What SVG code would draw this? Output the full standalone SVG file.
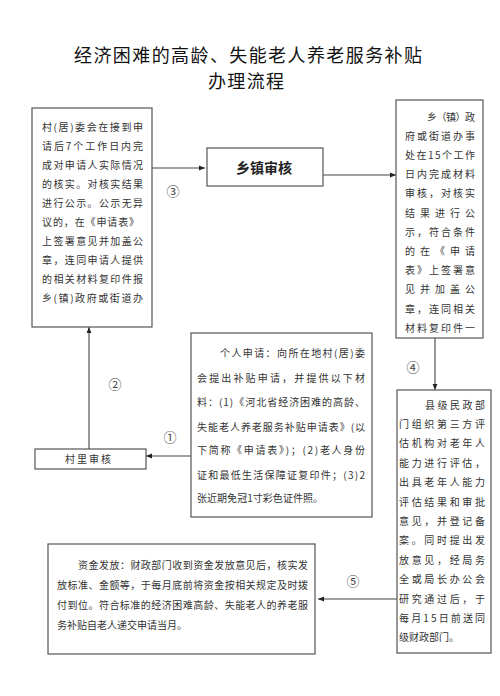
<svg xmlns="http://www.w3.org/2000/svg" width="500" height="696" viewBox="0 0 500 696">
<defs>
<style>
.box{fill:#fff;stroke:#555;stroke-width:1.2}
.t{font-family:"Noto Sans CJK SC",sans-serif;font-size:10px;fill:#333}
.title{font-family:"Noto Sans CJK SC",sans-serif;font-size:18px;fill:#111;text-anchor:middle}
.num{font-family:"Noto Sans CJK SC",sans-serif;font-size:13px;fill:#444;text-anchor:middle}
.ln{stroke:#444;stroke-width:1.1;fill:none}
</style>
<marker id="ah" viewBox="0 0 10 10" refX="10" refY="5" markerWidth="6" markerHeight="6" orient="auto" markerUnits="userSpaceOnUse">
<path d="M0,1 L10,5 L0,9 z" fill="#222"/>
</marker>
</defs>
<rect width="500" height="696" fill="#fff"/>
<g id="title">
<text class="title" x="248" y="62" textLength="348" lengthAdjust="spacing">经济困难的高龄、失能老人养老服务补贴</text>
<text class="title" x="246" y="88" textLength="76" lengthAdjust="spacing">办理流程</text>
</g>
<g id="connectors">
<line class="ln" x1="152" y1="168" x2="205" y2="168" marker-end="url(#ah)"/>
<line class="ln" x1="323" y1="175" x2="396" y2="175" marker-end="url(#ah)"/>
<line class="ln" x1="435" y1="338" x2="435" y2="390" marker-end="url(#ah)"/>
<line class="ln" x1="397" y1="599" x2="318" y2="599" marker-end="url(#ah)"/>
<line class="ln" x1="191" y1="456" x2="146" y2="456" marker-end="url(#ah)"/>
<line class="ln" x1="89" y1="449" x2="89" y2="327" marker-end="url(#ah)"/>
<text class="num" x="173" y="196">③</text>
<text class="num" x="413" y="372">④</text>
<text class="num" x="353" y="586">⑤</text>
<text class="num" x="170" y="442">①</text>
<text class="num" x="115" y="389">②</text>
</g>
<g id="village-committee">
<rect class="box" x="32" y="108" width="120" height="219"/>
<text class="t" x="42" y="130.5" textLength="101" lengthAdjust="spacing">村(居)委会在接到申</text>
<text class="t" x="42" y="149.5" textLength="101" lengthAdjust="spacing">请后7个工作日内完</text>
<text class="t" x="42" y="168.5" textLength="101" lengthAdjust="spacing">成对申请人实际情况</text>
<text class="t" x="42" y="187.5" textLength="101" lengthAdjust="spacing">的核实。对核实结果</text>
<text class="t" x="42" y="206.5" textLength="101" lengthAdjust="spacing">进行公示。公示无异</text>
<text class="t" x="42" y="225.5" textLength="97" lengthAdjust="spacing">议的，在《申请表》</text>
<text class="t" x="42" y="244.5" textLength="101" lengthAdjust="spacing">上签署意见并加盖公</text>
<text class="t" x="42" y="263.5" textLength="101" lengthAdjust="spacing">章，连同申请人提供</text>
<text class="t" x="42" y="282.5" textLength="101" lengthAdjust="spacing">的相关材料复印件报</text>
<text class="t" x="42" y="301.5" textLength="101" lengthAdjust="spacing">乡(镇)政府或街道办</text>
</g>
<g id="township-review">
<rect class="box" x="207" y="148" width="116" height="38"/>
<text x="264" y="173" text-anchor="middle" style="font-family:'Noto Sans CJK SC',sans-serif;font-size:14px;font-weight:bold;fill:#222">乡镇审核</text>
</g>
<g id="township-gov">
<rect class="box" x="396" y="100" width="87" height="238"/>
<text class="t" x="427" y="120.5" textLength="48" lengthAdjust="spacing">乡（镇）政</text>
<text class="t" x="405" y="139.7" textLength="70" lengthAdjust="spacing">府或街道办事</text>
<text class="t" x="405" y="158.9" textLength="70" lengthAdjust="spacing">处在15个工作</text>
<text class="t" x="405" y="178.1" textLength="70" lengthAdjust="spacing">日内完成材料</text>
<text class="t" x="405" y="197.3" textLength="70" lengthAdjust="spacing">审核，对核实</text>
<text class="t" x="405" y="216.5" textLength="70" lengthAdjust="spacing">结果进行公</text>
<text class="t" x="405" y="235.7" textLength="70" lengthAdjust="spacing">示，符合条件</text>
<text class="t" x="405" y="254.9" textLength="70" lengthAdjust="spacing">的在《申请</text>
<text class="t" x="405" y="274.1" textLength="70" lengthAdjust="spacing">表》上签署意</text>
<text class="t" x="405" y="293.3" textLength="70" lengthAdjust="spacing">见并加盖公</text>
<text class="t" x="405" y="312.5" textLength="70" lengthAdjust="spacing">章，连同相关</text>
<text class="t" x="405" y="331.7" textLength="70" lengthAdjust="spacing">材料复印件一</text>
</g>
<g id="personal-application">
<rect class="box" x="191" y="333" width="181" height="184"/>
<text class="t" x="220" y="356.5" textLength="145" lengthAdjust="spacing">个人申请：向所在地村(居)委</text>
<text class="t" x="197" y="381.5" textLength="168" lengthAdjust="spacing">会提出补贴申请，并提供以下材</text>
<text class="t" x="197" y="405.5" textLength="168" lengthAdjust="spacing">料：(1)《河北省经济困难的高龄、</text>
<text class="t" x="197" y="430.5" textLength="168" lengthAdjust="spacing">失能老人养老服务补贴申请表》(以</text>
<text class="t" x="197" y="453.5" textLength="168" lengthAdjust="spacing">下简称《申请表》)；(2)老人身份</text>
<text class="t" x="197" y="478.5" textLength="168" lengthAdjust="spacing">证和最低生活保障证复印件；(3)2</text>
<text class="t" x="197" y="501.5" textLength="126" lengthAdjust="spacing">张近期免冠1寸彩色证件照。</text>
</g>
<g id="village-review">
<rect class="box" x="35" y="449" width="111" height="20"/>
<text class="t" x="89" y="463" text-anchor="middle" letter-spacing="2">村里审核</text>
</g>
<g id="county-civil-affairs">
<rect class="box" x="397" y="390" width="94" height="263"/>
<text class="t" x="425" y="408.5" textLength="60" lengthAdjust="spacing">县级民政部</text>
<text class="t" x="399" y="427.9" textLength="86" lengthAdjust="spacing">门组织第三方评</text>
<text class="t" x="399" y="447.3" textLength="86" lengthAdjust="spacing">估机构对老年人</text>
<text class="t" x="399" y="466.7" textLength="86" lengthAdjust="spacing">能力进行评估，</text>
<text class="t" x="399" y="486.1" textLength="86" lengthAdjust="spacing">出具老年人能力</text>
<text class="t" x="399" y="505.5" textLength="86" lengthAdjust="spacing">评估结果和审批</text>
<text class="t" x="399" y="524.9" textLength="86" lengthAdjust="spacing">意见，并登记备</text>
<text class="t" x="399" y="544.3" textLength="86" lengthAdjust="spacing">案。同时提出发</text>
<text class="t" x="399" y="563.7" textLength="86" lengthAdjust="spacing">放意见，经局务</text>
<text class="t" x="399" y="583.1" textLength="86" lengthAdjust="spacing">全或局长办公会</text>
<text class="t" x="399" y="602.5" textLength="86" lengthAdjust="spacing">研究通过后，于</text>
<text class="t" x="399" y="621.9" textLength="86" lengthAdjust="spacing">每月15日前送同</text>
<text class="t" x="399" y="641.3">级财政部门。</text>
</g>
<g id="fund-disbursement">
<rect class="box" x="48" y="544" width="267" height="110"/>
<text class="t" x="78" y="568.5" textLength="230" lengthAdjust="spacing">资金发放：财政部门收到资金发放意见后，核实发</text>
<text class="t" x="57" y="588.5" textLength="251" lengthAdjust="spacing">放标准、金额等，于每月底前将资金按相关规定及时拨</text>
<text class="t" x="57" y="608.5" textLength="251" lengthAdjust="spacing">付到位。符合标准的经济困难高龄、失能老人的养老服</text>
<text class="t" x="57" y="628.5" textLength="130" lengthAdjust="spacing">务补贴自老人递交申请当月。</text>
</g>
</svg>
